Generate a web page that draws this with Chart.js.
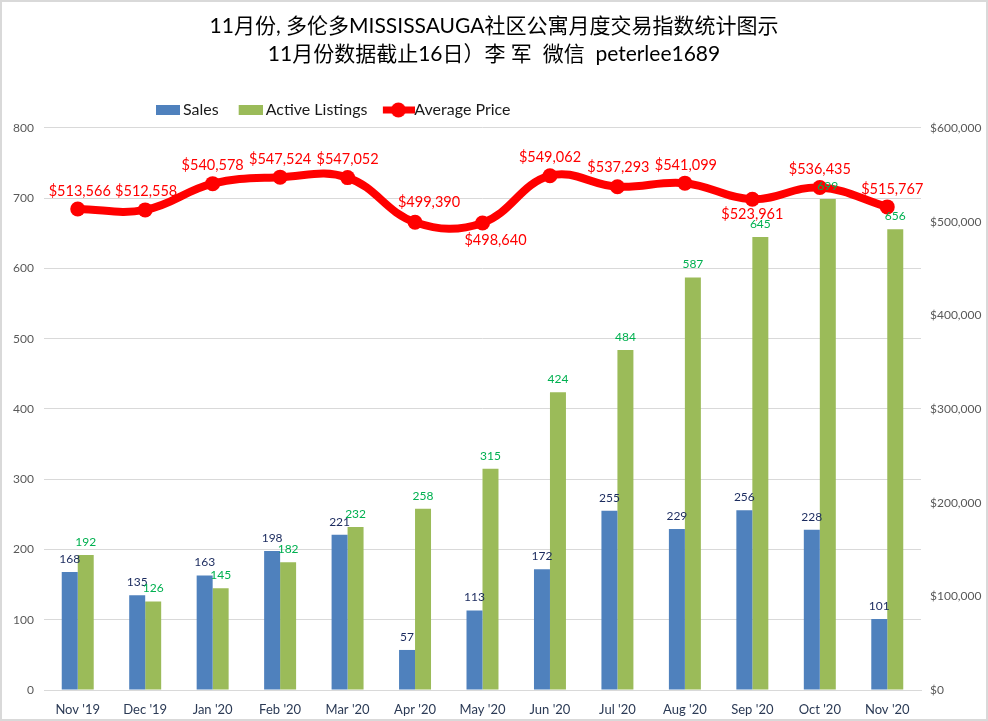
<!DOCTYPE html>
<html><head><meta charset="utf-8">
<style>html,body{margin:0;padding:0;background:#fff}canvas{display:block}</style>
<script src="https://cdn.jsdelivr.net/npm/chart.js@4"></script>
</head><body><canvas id="c" width="988" height="721"></canvas>
<script>
const categories = ["Nov '19","Dec '19","Jan '20","Feb '20","Mar '20","Apr '20","May '20","Jun '20","Jul '20","Aug '20","Sep '20","Oct '20","Nov '20"];
const sales = [168,135,163,198,221,57,113,172,255,229,256,228,101];
const activeListings = [192,126,145,182,232,258,315,424,484,587,645,699,656];
const averagePrice = [513566,512558,540578,547524,547052,499390,498640,549062,537293,541099,523961,536435,515767];
const titleLines = ["11月份, 多伦多MISSISSAUGA社区公寓月度交易指数统计图示","11月份数据截止16日）李 军  微信  peterlee1689"];
// label placement of the price labels (px relative to the point)
const priceLabelDx = [2,1,0,0,0,14,13,0,1,1,0,0,5];
const priceLabelDy = [-18,-19,-18,-18,-18,-20,17,-18,-19,-18,15,-18,-18];

const FONT = 'Lato, "Noto Sans CJK SC", sans-serif';
const BLUE='#4f81bd', GREEN='#9bbb59', RED='#ff0000';

function swatch(color){const c=document.createElement('canvas');c.width=29;c.height=10;const x=c.getContext('2d');x.fillStyle=color;x.fillRect(5,0,24,10);return c;}
function lineMark(){const c=document.createElement('canvas');c.width=36;c.height=16;const x=c.getContext('2d');x.fillStyle=RED;x.fillRect(4,4.5,32,7);x.beginPath();x.arc(19.5,8,7.5,0,Math.PI*2);x.fill();return c;}

const frame={id:'frame',beforeDraw(ch){const x=ch.ctx;x.save();x.fillStyle='#fff';x.fillRect(0,0,988,721);x.strokeStyle='#d9d9d9';x.lineWidth=2;x.strokeRect(1,1,986,719);x.restore();
  ch.legend.left=136;ch.legend.top=82;}};
const labels={id:'labels',afterDatasetsDraw(ch){const x=ch.ctx;x.save();x.textAlign='center';x.textBaseline='middle';
  const m0=ch.getDatasetMeta(0),m1=ch.getDatasetMeta(1),m2=ch.getDatasetMeta(2);
  x.font='12px '+FONT;x.fillStyle='#1a2a5e';
  sales.forEach((v,i)=>x.fillText(String(v),m0.data[i].x,m0.data[i].y-13));
  x.fillStyle='#00b050';
  activeListings.forEach((v,i)=>x.fillText(String(v),m1.data[i].x,m1.data[i].y-13));
  x.font='14.5px '+FONT;x.fillStyle='#ff0000';
  averagePrice.forEach((v,i)=>x.fillText('$'+v.toLocaleString('en-US'),m2.data[i].x+priceLabelDx[i],m2.data[i].y+priceLabelDy[i]));
  x.restore();}};

new Chart(document.getElementById('c'),{
  data:{labels:categories,datasets:[
    {type:'bar',label:'Sales',data:sales,backgroundColor:BLUE,yAxisID:'y',order:2,categoryPercentage:0.474,barPercentage:1,pointStyle:swatch(BLUE)},
    {type:'bar',label:'Active Listings',data:activeListings,backgroundColor:GREEN,yAxisID:'y',order:2,categoryPercentage:0.474,barPercentage:1,pointStyle:swatch(GREEN)},
    {type:'line',label:'Average Price',data:averagePrice,borderColor:RED,backgroundColor:RED,borderWidth:8,tension:0.4,pointRadius:7.5,pointBackgroundColor:RED,pointBorderColor:RED,pointBorderWidth:0,yAxisID:'y1',order:1,pointStyle:'circle'}
  ]},
  plugins:[frame,labels],
  options:{responsive:false,animation:false,devicePixelRatio:1,
    layout:{padding:{left:0,right:0,top:0,bottom:0}},
    plugins:{
      title:{display:true,text:titleLines,color:'#000',font:{family:FONT,size:21,weight:'normal',lineHeight:1.333},padding:{top:12,bottom:14}},
      tooltip:{enabled:false},
      legend:{display:true,position:'top',align:'start',
        labels:{usePointStyle:true,pointStyleWidth:19,padding:20,color:'#000',font:{family:FONT,size:16},
          generateLabels(ch){return ch.data.datasets.map((d,i)=>({text:d.label,fontColor:'#1a1a1a',datasetIndex:i,lineWidth:0,pointStyle:i==2?lineMark():d.pointStyle,hidden:false}));}}}
    },
    scales:{
      x:{grid:{display:false},border:{color:'#d9d9d9'},ticks:{color:'#2b3a55',font:{family:FONT,size:13},maxRotation:0,autoSkip:false,padding:4},afterFit(s){s.height=31;}},
      y:{position:'left',min:0,max:800,grid:{color:'#d9d9d9',lineWidth:1,drawTicks:false},border:{display:false},ticks:{stepSize:100,color:'#595959',font:{family:FONT,size:12},padding:10},afterFit(s){s.width=44;}},
      y1:{position:'right',min:0,max:600000,grid:{display:false,drawTicks:false},border:{display:false},ticks:{stepSize:100000,color:'#595959',font:{family:FONT,size:12},padding:9,callback:v=>'$'+v.toLocaleString('en-US')},afterFit(s){s.width=67;}}
    }
  }
});
</script></body></html>
